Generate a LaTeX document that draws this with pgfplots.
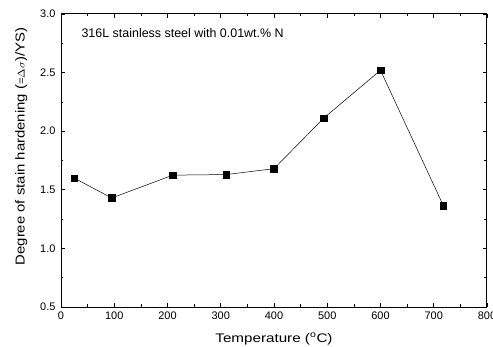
\documentclass[border=0pt]{standalone}
\usepackage{graphicx}
\usepackage{pgfplots}
\pgfplotsset{compat=1.18}
\usepackage{fontspec}
\setmainfont{Liberation Sans}
\begin{document}
\begin{tikzpicture}[x=1bp,y=1bp]
\begin{axis}[
  name=ax, at={(0,0)}, anchor=south west,
  scale only axis, width=426bp, height=293bp,
  xmin=0, xmax=800, ymin=0.5, ymax=3.0,
  xtick={0,100,...,800}, ytick={0.5,1.0,...,3.0},
  minor xtick={50,150,...,750}, minor ytick={0.75,1.25,...,2.75},
  tick align=inside, tick pos=both,
  major tick length=4bp, minor tick length=2.5bp,
  every tick/.style={black, line width=0.6pt},
  axis line style={line width=1pt},
  yticklabel style={/pgf/number format/fixed, /pgf/number format/fixed zerofill, /pgf/number format/precision=1, xshift=-2bp},
  /pgf/number format/assume math mode=true,
  ticklabel style={font=\fontsize{11}{12}\selectfont},
  xticklabel style={yshift=-1bp},
  xlabel={\scalebox{1.22}[1]{Temperature (\textsuperscript{o}C)}},
  ylabel={\scalebox{1.15}[1]{Degree of stain hardening ({\fontsize{10}{11}\selectfont =$\Delta\sigma$})/YS)}},
  xlabel style={font=\fontsize{12.5}{13}\selectfont, yshift=-7bp},
  ylabel style={font=\fontsize{13}{14}\selectfont, yshift=6bp, xshift=14bp},
]
\addplot[black, line width=0.5pt, mark=square*, mark size=3.3bp, mark options={solid}] coordinates {
(25,1.60) (95,1.43) (210,1.625) (310,1.63) (400,1.68) (493,2.11) (600,2.52) (718,1.365)
};
\node[anchor=west, font=\fontsize{12.5}{14}\selectfont] at (axis cs:32,2.84) {316L stainless steel with 0.01wt.\% N};
\end{axis}
\pgfresetboundingbox
\path[use as bounding box] (-61bp,-40bp) rectangle (432bp,307bp);
\end{tikzpicture}
\end{document}
